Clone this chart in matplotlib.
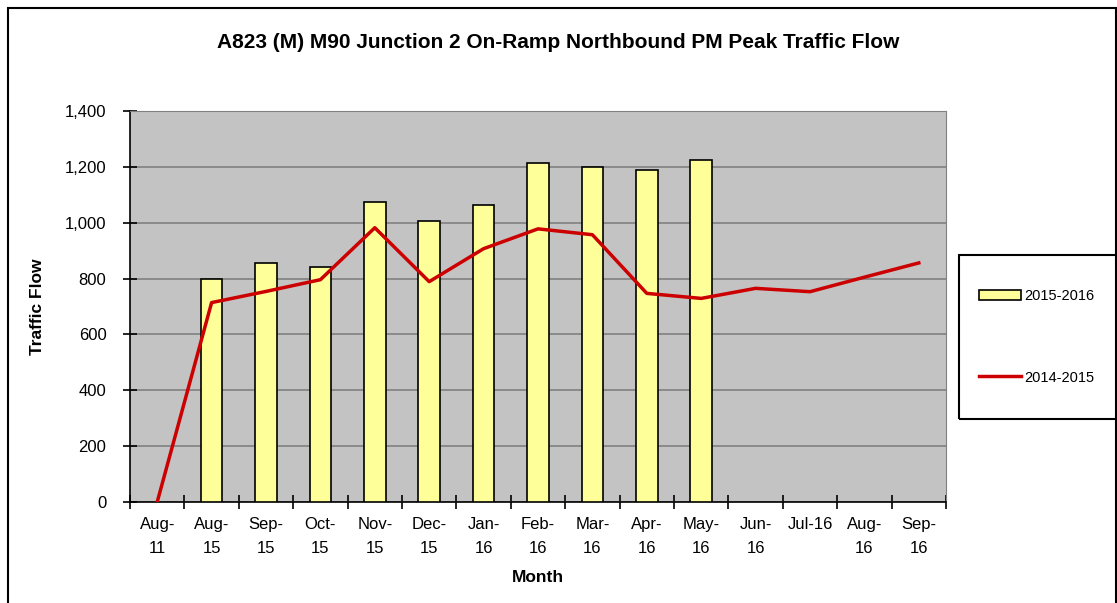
import numpy as np
import matplotlib.pyplot as plt
from matplotlib.patches import Rectangle

# months on the x axis
months = ["Aug-\n11", "Aug-\n15", "Sep-\n15", "Oct-\n15", "Nov-\n15", "Dec-\n15", "Jan-\n16",
          "Feb-\n16", "Mar-\n16", "Apr-\n16", "May-\n16", "Jun-\n16", "Jul-16", "Aug-\n16", "Sep-\n16"]
# 2015-2016 bars (Aug-15 .. May-16)
flow_1516 = [np.nan, 800, 855, 843, 1075, 1007, 1064, 1214, 1200, 1189, 1225,
             np.nan, np.nan, np.nan, np.nan]
# 2014-2015 line
flow_1415 = [0, 714, 754, 796, 982, 789, 907, 978, 957, 747, 729, 765, 753, 805, 856]

plt.rcParams['font.family'] = ['Liberation Sans', 'DejaVu Sans']

fig = plt.figure(figsize=(11.17, 6.03), dpi=100)
ax = fig.add_axes([130/1117, 1-502/603, (946-130)/1117, (502-111)/603])

x = np.arange(len(months))
ax.set_facecolor("#c3c3c3")
bars = ax.bar(x, flow_1516, width=0.4, color="#ffff99", edgecolor="black", linewidth=1.2,
              label="2015-2016", zorder=3)
line, = ax.plot(x, flow_1415, color="#cc0000", linewidth=2.5, label="2014-2015", zorder=4)

ax.set_xlim(-0.5, len(months)-0.5)
ax.set_ylim(0, 1400)
ax.set_yticks(np.arange(0, 1401, 200))
ax.set_yticklabels(["{:,}".format(v) for v in range(0, 1401, 200)])
ax.yaxis.grid(True, color="#808080", linewidth=1.2, zorder=1)
ax.set_axisbelow(True)

# ticks at category boundaries, labels centred
ax.set_xticks(np.arange(-0.5, len(months), 1))
ax.set_xticklabels([])
ax.set_xticks(x, minor=True)
ax.set_xticklabels(months, minor=True, fontsize=12, linespacing=1.7)
ax.tick_params(axis='x', which='minor', length=0, pad=11)
ax.tick_params(axis='x', which='major', direction='inout', length=10, width=1.2)
ax.tick_params(axis='y', direction='inout', length=10, width=1.2, labelsize=12, pad=12)

for s in ["top", "right"]:
    ax.spines[s].set_color("#808080")
for s in ["left", "bottom"]:
    ax.spines[s].set_color("black")
    ax.spines[s].set_linewidth(1.2)

ax.set_ylabel("Traffic Flow", fontsize=12.5, fontweight="bold", labelpad=14)
ax.set_xlabel("Month", fontsize=12.5, fontweight="bold", labelpad=10)
fig.text(0.5, 1-43/603, "A823 (M) M90 Junction 2 On-Ramp Northbound PM Peak Traffic Flow",
         ha="center", va="center", fontsize=15, fontweight="bold")

# outer chart border and legend box
fig.patches.append(Rectangle((8/1117, -0.05), (1116-8)/1117, 1.05-8/603, transform=fig.transFigure,
                             fill=False, edgecolor="black", linewidth=1.5))
fig.patches.append(Rectangle((959/1117, 1-419/603), 0.2, (419-255)/603, transform=fig.transFigure,
                             fill=False, edgecolor="black", linewidth=1.5))
fig.legend(handles=[bars, line], loc="center left", bbox_to_anchor=(966/1117, 1-337/603),
           frameon=False, fontsize=10.5, handlelength=2.9, labelspacing=4.6, handletextpad=0.2)

fig.savefig("out.png", dpi=100)
